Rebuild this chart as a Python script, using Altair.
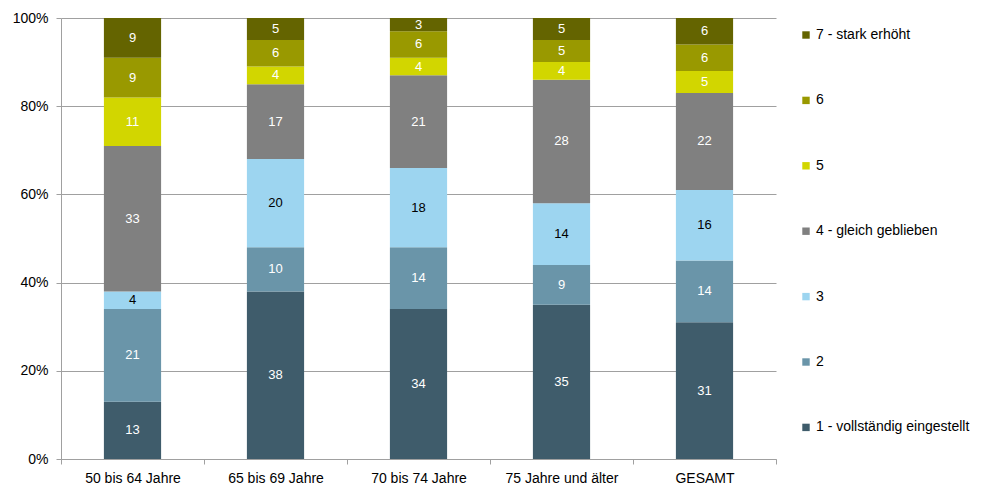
import altair as alt
import pandas as pd

categories = ["50 bis 64 Jahre", "65 bis 69 Jahre", "70 bis 74 Jahre", "75 Jahre und älter", "GESAMT"]
series = ["1 - vollständig eingestellt", "2", "3", "4 - gleich geblieben", "5", "6", "7 - stark erhöht"]
values = {
    "1 - vollständig eingestellt": [13, 38, 34, 35, 31],
    "2": [21, 10, 14, 9, 14],
    "3": [4, 20, 18, 14, 16],
    "4 - gleich geblieben": [33, 17, 21, 28, 22],
    "5": [11, 4, 4, 4, 5],
    "6": [9, 6, 6, 5, 6],
    "7 - stark erhöht": [9, 5, 3, 5, 6],
}
colors = ["#3f5c6b", "#6a95a9", "#9dd5f0", "#808080", "#d2d600", "#999900", "#646400"]

rows = []
for si, s in enumerate(series):
    for ci, c in enumerate(categories):
        rows.append({"cat": c, "series": s, "rank": si, "value": values[s][ci]})
df = pd.DataFrame(rows)

font = "Liberation Sans"

base = alt.Chart(df).transform_stack(
    stack="value", groupby=["cat"], as_=["y0", "y1"], offset="normalize",
    sort=[alt.SortField("rank", order="ascending")]
).transform_calculate(mid="(datum.y0 + datum.y1) / 2")

xenc = alt.X("cat:N", sort=categories, title=None,
             scale=alt.Scale(paddingInner=0, paddingOuter=0),
             axis=alt.Axis(tickBand="extent", labelAngle=0, labelFontSize=14, labelColor="#000000",
                           labelFont=font, domainColor="#a0a0a0", tickColor="#a0a0a0", tickSize=5,
                           labelPadding=7, grid=False))

bars = base.mark_bar(width=alt.RelativeBandSize(0.4)).encode(
    x=xenc,
    y=alt.Y("y0:Q", scale=alt.Scale(domain=[0, 1]), title=None,
            axis=alt.Axis(format=".0%", values=[0, 0.2, 0.4, 0.6, 0.8, 1.0], labelFontSize=14,
                          labelColor="#000000", labelFont=font, domainColor="#a0a0a0",
                          tickColor="#a0a0a0", tickSize=5, gridColor="#a0a0a0", labelPadding=8)),
    y2="y1:Q",
    color=alt.Color("series:N",
                    scale=alt.Scale(domain=series[::-1], range=colors[::-1]),
                    legend=alt.Legend(title=None, orient="none", legendX=738, legendY=10,
                                      symbolType="square", symbolSize=55, symbolStrokeWidth=0,
                                      labelFontSize=14, labelFont=font, labelColor="#000000",
                                      rowPadding=51.4, labelOffset=3)),
)

texts = base.mark_text(fontSize=13, font=font).encode(
    x=alt.X("cat:N", sort=categories),
    y="mid:Q",
    text="value:Q",
    color=alt.condition(alt.datum.series == "3", alt.value("#000000"), alt.value("#ffffff")),
)

chart = alt.layer(bars, texts).properties(
    width=715, height=441,
    autosize=alt.AutoSizeParams(type="none"),
    padding={"left": 53, "top": 10, "right": 215, "bottom": 26},
).configure_view(stroke=None).configure_axis(gridColor="#a0a0a0")

chart.save("out.html", embed_options={"renderer": "svg", "actions": False})
